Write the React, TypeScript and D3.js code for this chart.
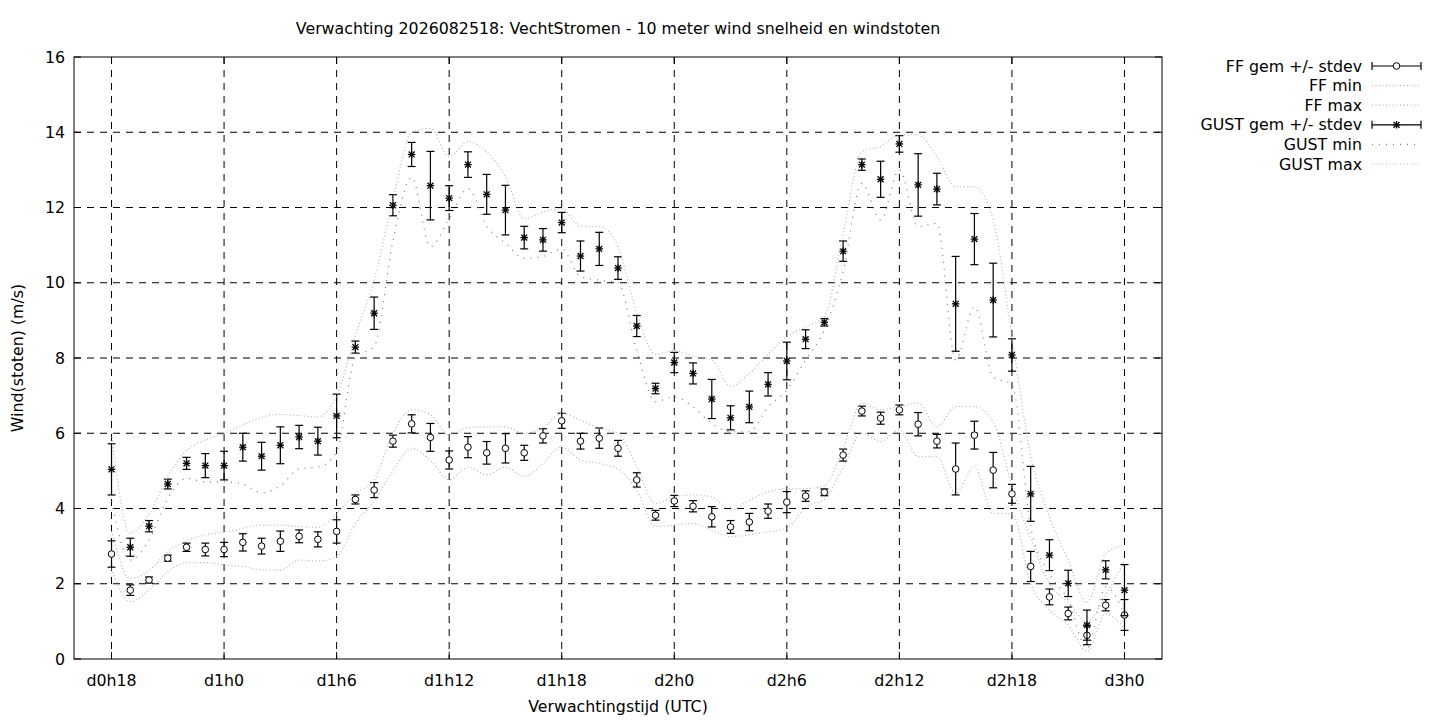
import React from 'react';
import * as d3 from 'd3';

const hours = [18,19,20,21,22,23,24,25,26,27,28,29,30,31,32,33,34,35,36,37,38,39,40,41,42,43,44,45,46,47,48,49,50,51,52,53,54,55,56,57,58,59,60,61,62,63,64,65,66,67,68,69,70,71,72];

const ffMean = [2.79,1.83,2.10,2.68,2.97,2.91,2.91,3.10,3.00,3.13,3.26,3.18,3.39,4.24,4.49,5.79,6.25,5.89,5.29,5.63,5.48,5.60,5.48,5.93,6.33,5.79,5.87,5.60,4.76,3.82,4.20,4.06,3.78,3.51,3.64,3.93,4.17,4.33,4.43,5.42,6.59,6.40,6.62,6.24,5.79,5.05,5.95,5.02,4.39,2.46,1.65,1.21,0.63,1.43,1.17];
const ffStd = [0.35,0.14,0.08,0.08,0.11,0.17,0.19,0.23,0.21,0.27,0.17,0.20,0.31,0.12,0.20,0.16,0.24,0.37,0.24,0.28,0.30,0.39,0.20,0.19,0.20,0.21,0.27,0.21,0.19,0.13,0.15,0.15,0.27,0.17,0.23,0.19,0.28,0.14,0.09,0.16,0.13,0.16,0.13,0.31,0.18,0.69,0.37,0.47,0.25,0.40,0.21,0.17,0.25,0.15,0.41];
const ffMin = [2.40,1.52,1.83,2.32,2.56,2.56,2.50,2.46,2.37,2.36,2.63,2.60,2.72,3.60,4.20,5.00,5.60,5.28,4.76,5.10,4.90,5.10,4.85,5.20,5.64,5.29,5.20,5.05,4.49,3.52,3.56,3.60,3.43,3.25,3.30,3.38,3.47,4.04,4.25,5.10,6.00,5.78,6.09,5.38,5.38,4.40,5.11,3.87,3.87,2.00,1.30,0.90,0.20,1.20,0.80];
const ffMax = [3.40,2.14,2.35,2.85,3.14,3.30,3.37,3.47,3.56,3.56,3.52,3.50,3.86,4.40,4.76,6.00,6.62,6.50,5.95,6.15,6.17,6.17,6.00,6.15,6.53,6.35,6.13,6.00,5.11,4.13,4.31,4.36,4.31,3.96,4.22,4.44,4.53,4.53,4.60,5.60,6.80,6.62,6.71,6.80,6.17,6.71,6.71,6.30,4.60,3.20,2.00,1.50,1.00,1.70,2.60];

const gustMean = [5.04,2.97,3.53,4.65,5.20,5.14,5.14,5.63,5.39,5.68,5.90,5.79,6.46,8.29,9.19,12.06,13.41,12.58,12.25,13.14,12.35,11.93,11.20,11.14,11.60,10.71,10.90,10.39,8.85,7.19,7.88,7.59,6.91,6.41,6.70,7.30,7.92,8.50,8.95,10.84,13.14,12.75,13.69,12.60,12.49,9.44,11.16,9.54,8.08,4.39,2.76,2.01,0.90,2.37,1.83];
const gustStd = [0.68,0.24,0.15,0.13,0.16,0.32,0.38,0.37,0.37,0.49,0.31,0.37,0.58,0.16,0.43,0.28,0.32,0.91,0.33,0.34,0.53,0.66,0.30,0.30,0.27,0.40,0.44,0.30,0.28,0.14,0.27,0.28,0.52,0.32,0.42,0.31,0.50,0.25,0.10,0.27,0.15,0.48,0.22,0.83,0.42,1.26,0.68,0.98,0.43,0.73,0.41,0.35,0.40,0.24,0.68];
const gustMin = [4.20,2.63,3.16,4.27,4.80,4.71,4.71,4.65,4.42,4.60,5.05,5.10,5.50,8.03,8.30,11.10,12.80,10.96,11.70,12.50,11.50,11.05,10.65,10.70,10.90,10.16,10.07,10.00,8.20,6.84,6.97,6.70,6.26,6.04,6.04,6.70,7.15,7.95,8.74,10.30,12.64,11.67,13.00,11.49,11.58,7.95,9.36,7.50,7.30,3.50,2.27,1.57,0.28,1.92,1.20];
const gustMax = [6.00,3.35,3.85,4.85,5.55,5.82,6.00,6.22,6.42,6.50,6.47,6.43,7.00,8.60,10.07,12.20,14.00,14.10,13.35,13.75,13.48,12.82,11.70,11.88,11.97,11.50,11.50,10.96,9.20,8.10,8.20,8.05,7.95,7.24,7.59,8.10,8.57,8.83,9.10,11.30,13.48,13.62,13.93,13.93,13.35,12.55,12.55,11.67,8.57,5.40,3.78,2.63,1.50,2.80,3.03];

const xTickHours = [18,24,30,36,42,48,54,60,66,72];
const xTickLabels = ['d0h18','d1h0','d1h6','d1h12','d1h18','d2h0','d2h6','d2h12','d2h18','d3h0'];
const yTicks = [0,2,4,6,8,10,12,14,16];
const legendLabels = ['FF gem +/- stdev','FF min','FF max','GUST gem +/- stdev','GUST min','GUST max'];

const titleText = 'Verwachting 2026082518: VechtStromen - 10 meter wind snelheid en windstoten';
const xLabel = 'Verwachtingstijd (UTC)';
const yLabel = 'Wind(stoten) (m/s)';

const W = 1440, H = 720;
const L = 74, R = 1162, T = 57, B = 659;
const FONT = '"DejaVu Sans", sans-serif';
const FS = 15.8;
const LIGHT = '#b4b4b4';
const GMIN = '#7a7a7a';

function Star({ cx, cy, s = 3.7 }: { cx: number; cy: number; s?: number }) {
  const d = s * 0.8;
  return (
    <g stroke="#000" strokeWidth={1.3}>
      <line x1={cx - s} y1={cy} x2={cx + s} y2={cy} />
      <line x1={cx} y1={cy - s} x2={cx} y2={cy + s} />
      <line x1={cx - d} y1={cy - d} x2={cx + d} y2={cy + d} />
      <line x1={cx - d} y1={cy + d} x2={cx + d} y2={cy - d} />
    </g>
  );
}

export default function App() {
  const x = d3.scaleLinear().domain([16, 74]).range([L, R]);
  const y = d3.scaleLinear().domain([0, 16]).range([B, T]);
  const line = d3.line<number>().x((_, i) => x(hours[i])).y(d => y(d)).curve(d3.curveMonotoneX);
  const cap = 4;

  const errBars = (mean: number[], sd: number[], key: string) =>
    mean.map((m, i) => {
      const cx = x(hours[i]);
      const y1 = y(m + sd[i]);
      const y2 = y(m - sd[i]);
      return (
        <g key={key + i} stroke="#000" strokeWidth={1.2}>
          <line x1={cx} y1={y1} x2={cx} y2={y2} />
          <line x1={cx - cap} y1={y1} x2={cx + cap} y2={y1} />
          <line x1={cx - cap} y1={y2} x2={cx + cap} y2={y2} />
        </g>
      );
    });

  const legX1 = 1372, legX2 = 1421, legTextX = 1362;
  const legY = (i: number) => 66 + i * 19.6;

  return (
    <svg width={W} height={H} style={{ position: 'absolute', left: 0, top: 0, background: '#fff' }} fontFamily={FONT}>
      <rect x={0} y={0} width={W} height={H} fill="#fff" />
      {/* grid */}
      <g stroke="#000" strokeWidth={1} strokeDasharray="7,6">
        {yTicks.filter(v => v > 0 && v < 16).map(v => (
          <line key={'gy' + v} x1={L} x2={R} y1={y(v)} y2={y(v)} />
        ))}
        {xTickHours.map(h => (
          <line key={'gx' + h} x1={x(h)} x2={x(h)} y1={T} y2={B} />
        ))}
      </g>
      {/* ticks */}
      <g stroke="#000" strokeWidth={1}>
        {yTicks.map(v => (
          <g key={'ty' + v}>
            <line x1={L} x2={L + 7} y1={y(v)} y2={y(v)} />
            <line x1={R} x2={R - 7} y1={y(v)} y2={y(v)} />
          </g>
        ))}
        {xTickHours.map(h => (
          <g key={'tx' + h}>
            <line x1={x(h)} x2={x(h)} y1={B} y2={B - 7} />
            <line x1={x(h)} x2={x(h)} y1={T} y2={T + 7} />
          </g>
        ))}
      </g>
      {/* FF */}
      {errBars(ffMean, ffStd, 'fe')}
      {ffMean.map((m, i) => (
        <circle key={'fc' + i} cx={x(hours[i])} cy={y(m)} r={3.3} fill="#fff" stroke="#000" strokeWidth={1} />
      ))}
      <path d={line(ffMin) || ''} fill="none" stroke={LIGHT} strokeWidth={1.2} strokeDasharray="1,2.5" />
      <path d={line(ffMax) || ''} fill="none" stroke={LIGHT} strokeWidth={1.2} strokeDasharray="1,2.5" />
      {/* GUST */}
      {errBars(gustMean, gustStd, 'ge')}
      {gustMean.map((m, i) => (
        <Star key={'gs' + i} cx={x(hours[i])} cy={y(m)} />
      ))}
      <path d={line(gustMin) || ''} fill="none" stroke={GMIN} strokeWidth={1.2} strokeDasharray="1,6" />
      <path d={line(gustMax) || ''} fill="none" stroke={LIGHT} strokeWidth={1.2} strokeDasharray="1,2.5" />
      {/* frame */}
      <rect x={L} y={T} width={R - L} height={B - T} fill="none" stroke="#000" strokeWidth={1} />
      {/* tick labels */}
      <g fontSize={FS} fill="#000">
        {yTicks.map(v => (
          <text key={'ly' + v} x={L - 9} y={y(v) + 5.5} textAnchor="end">{v}</text>
        ))}
        {xTickHours.map((h, i) => (
          <text key={'lx' + h} x={x(h)} y={B + 27} textAnchor="middle">{xTickLabels[i]}</text>
        ))}
      </g>
      {/* titles */}
      <text x={(L + R) / 2} y={34} textAnchor="middle" fontSize={FS}>{titleText}</text>
      <text x={(L + R) / 2} y={712} textAnchor="middle" fontSize={FS}>{xLabel}</text>
      <text transform={`translate(23,${(T + B) / 2}) rotate(-90)`} textAnchor="middle" fontSize={FS}>{yLabel}</text>
      {/* legend */}
      <g fontSize={FS}>
        {legendLabels.map((lab, i) => {
          const ly = legY(i);
          return (
            <g key={'lg' + i}>
              <text x={legTextX} y={ly + 5.5} textAnchor="end">{lab}</text>
              {i === 0 || i === 3 ? (
                <g stroke="#000" strokeWidth={1.2}>
                  <line x1={legX1} x2={legX2} y1={ly} y2={ly} />
                  <line x1={legX1} x2={legX1} y1={ly - cap} y2={ly + cap} />
                  <line x1={legX2} x2={legX2} y1={ly - cap} y2={ly + cap} />
                </g>
              ) : (
                <line x1={legX1} x2={legX2} y1={ly} y2={ly}
                  stroke={i === 4 ? GMIN : LIGHT} strokeWidth={1.2}
                  strokeDasharray={i === 4 ? '1,6' : '1,2.5'} />
              )}
              {i === 0 && <circle cx={(legX1 + legX2) / 2} cy={ly} r={3.3} fill="#fff" stroke="#000" />}
              {i === 3 && <Star cx={(legX1 + legX2) / 2} cy={ly} />}
            </g>
          );
        })}
      </g>
    </svg>
  );
}
